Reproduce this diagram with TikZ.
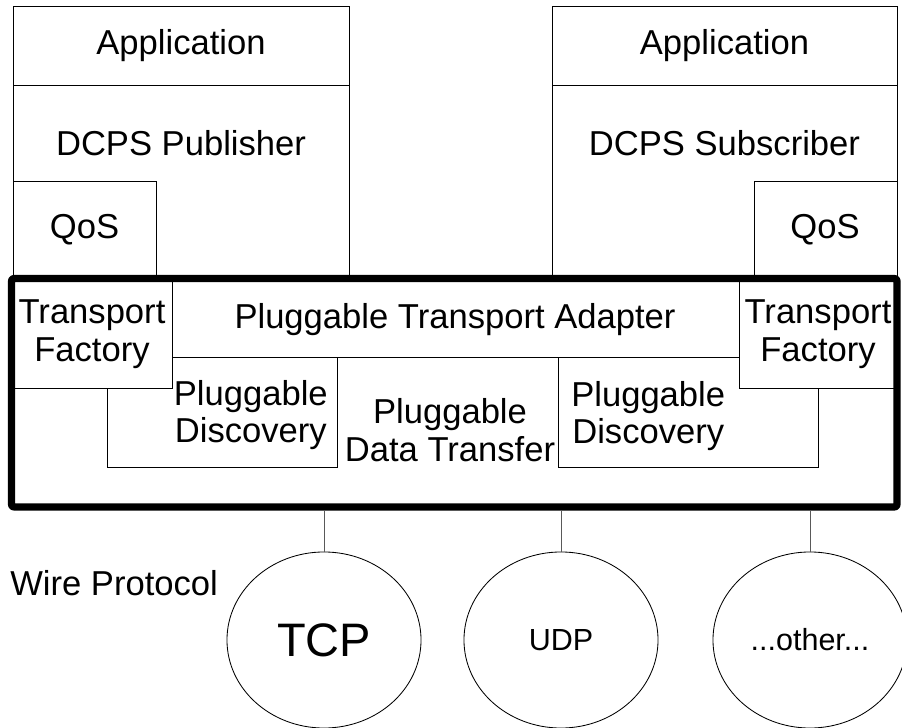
\documentclass[tikz,border=0pt]{standalone}
\usepackage{fontspec}
\setmainfont{Liberation Sans}
\usetikzlibrary{fit,positioning,shapes.geometric}

\tikzset{
  layer/.style={draw=black, line width=0.6pt, inner sep=0pt},
  solid layer/.style={layer, fill=white},
  txt/.style={align=center, inner sep=0pt, font=\fontsize{24.6}{26.6}\selectfont},
  adapter frame/.style={draw=black, line width=5pt, line join=round, rounded corners=1.5pt, inner sep=0pt},
  proto/.style={draw=black, line width=0.6pt, ellipse, inner sep=0pt, minimum width=4.85cm, minimum height=4.4cm},
  wire/.style={draw=black!65, line width=0.6pt}
}

\begin{document}
\begin{tikzpicture}[x=0.025cm, y=-0.025cm]
  \clip (0,0) rectangle (902,728);

  % publisher side
  \node[layer, fit={(13,6) (349,85)}] (app1) {};
  \node[txt] (app1txt) at (app1.center) {Application};
  \node[layer, fit={(13,85) (349,278.5)}] (pub) {};
  \node[txt] (pubtxt) at (181,143) {DCPS Publisher};
  \node[layer, fit={(13,181) (156,278.5)}] (qos1) {};
  \node[txt] (qos1txt) at (84.5,230) {QoS};

  % subscriber side
  \node[layer, fit={(552,6) (897,85)}] (app2) {};
  \node[txt] (app2txt) at (app2.center) {Application};
  \node[layer, fit={(552,85) (897,278.5)}] (sub) {};
  \node[txt] (subtxt) at (724.5,143) {DCPS Subscriber};
  \node[layer, fit={(754,181) (897,278.5)}] (qos2) {};
  \node[txt] (qos2txt) at (825,230) {QoS};

  % pluggable transport layer
  \node[layer, fit={(107,357) (337,467)}] (disc1) {};
  \node[txt, anchor=east] (disc1txt) at (328,415) {Pluggable\\Discovery};
  \node[layer, fit={(558,357) (818,467)}] (disc2) {};
  \node[txt, anchor=west] (disc2txt) at (571,416) {Pluggable\\Discovery};
  \node[txt] (xfer) at (450,430) {Pluggable\\Data Transfer};
  \node[layer, fit={(172,278.5) (739,357)}] (pta) {};
  \node[txt] (ptatxt) at (455,320) {Pluggable Transport Adapter};
  \node[solid layer, fit={(11.5,278.5) (172,388)}] (tf1) {};
  \node[txt] (tf1txt) at (92,334) {Transport\\Factory};
  \node[solid layer, fit={(739,278.5) (897,388)}] (tf2) {};
  \node[txt] (tf2txt) at (818,334) {Transport\\Factory};
  \node[adapter frame, fit={(11.5,278.5) (897,507)}] (adapter) {};

  % wire protocols
  \node[txt, anchor=west] (wirelbl) at (10,583) {Wire Protocol};
  \node[proto, font=\fontsize{33.4}{36}\selectfont] (tcp) at (324,640) {TCP};
  \node[proto, font=\fontsize{21.7}{24}\selectfont] (udp) at (561,640) {UDP};
  \node[proto, font=\fontsize{21.7}{24}\selectfont] (other) at (810,640) {...other...};

  \draw[wire] (adapter.south -| tcp.north) -- (tcp.north);
  \draw[wire] (adapter.south -| udp.north) -- (udp.north);
  \draw[wire] (adapter.south -| other.north) -- (other.north);
\end{tikzpicture}
\end{document}
